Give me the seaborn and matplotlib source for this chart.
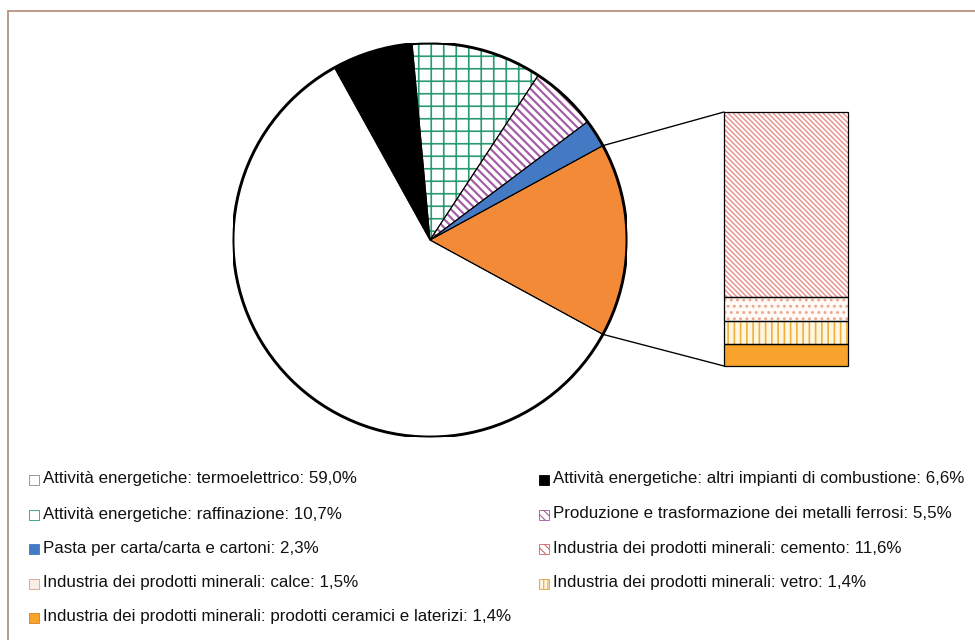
import matplotlib
matplotlib.use("Agg")
import math
import matplotlib.pyplot as plt
import seaborn as sns
from matplotlib.patches import Rectangle, Circle, ConnectionPatch
from matplotlib.lines import Line2D

# ---------------- data ----------------
pie_labels = ["Industria dei prodotti minerali",
              "Pasta per carta/carta e cartoni",
              "Produzione e trasformazione dei metalli ferrosi",
              "Attività energetiche: raffinazione",
              "Attività energetiche: altri impianti di combustione",
              "Attività energetiche: termoelettrico"]
bar_labels = ["prodotti ceramici e laterizi", "vetro", "calce", "cemento"]
bar_values = [1.4, 1.4, 1.5, 11.6]
pie_other_values = [2.3, 5.5, 10.7, 6.6, 59.0]
pie_values = [sum(bar_values)] + pie_other_values

legend_left = ["Attività energetiche: termoelettrico: 59,0%",
               "Attività energetiche: raffinazione: 10,7%",
               "Pasta per carta/carta e cartoni: 2,3%",
               "Industria dei prodotti minerali: calce: 1,5%",
               "Industria dei prodotti minerali: prodotti ceramici e laterizi: 1,4%"]
legend_right = ["Attività energetiche: altri impianti di combustione: 6,6%",
                "Produzione e trasformazione dei metalli ferrosi: 5,5%",
                "Industria dei prodotti minerali: cemento: 11,6%",
                "Industria dei prodotti minerali: vetro: 1,4%"]

# ---------------- style ----------------
sns.set_theme(style="white")
plt.rcParams["font.family"] = ["Liberation Sans", "DejaVu Sans"]

DPI = 75
W, H = 975, 640
fig = plt.figure(figsize=(W / DPI, H / DPI), dpi=DPI)
fig.patch.set_facecolor("white")

def fx(px):
    return px / W

def fy(py):
    return 1 - py / H

# pie styles (face, hatch colour, hatch, hatch lw)
pie_face = ["#f28a38", "#4479c4", "white", "white", "black", "white"]
pie_hcol = ["#f28a38", "#4479c4", "#a45ea4", "#2a9a70", "black", "white"]
pie_hatch = [None, None, "\\\\\\", "+", None, None]
pie_hlw = [1, 1, 2.1, 1.6, 1, 1]

# ---------------- pie ----------------
cx, cy, R = 430, 240, 197
ax_pie = fig.add_axes([fx(cx - R), fy(cy + R), 2 * R / W, 2 * R / H])
start = -pie_values[0] / 100 * 360 / 2
wedges, _ = ax_pie.pie(pie_values, colors=pie_face, startangle=start,
                       counterclock=True, radius=1,
                       wedgeprops=dict(linewidth=0))
for w, hc, h, hl in zip(wedges, pie_hcol, pie_hatch, pie_hlw):
    w.set_edgecolor(hc)
    if h:
        w.set_hatch(h)
        if hasattr(w, "set_hatch_linewidth"):
            w.set_hatch_linewidth(hl)
outl, _ = ax_pie.pie(pie_values, colors=["none"] * len(pie_values),
                     startangle=start, counterclock=True, radius=1,
                     wedgeprops=dict(linewidth=1.0, edgecolor="black", fill=False))
ax_pie.add_patch(Circle((0, 0), 1, fill=False, edgecolor="black", linewidth=2.8))
ax_pie.set_xlim(-1, 1)
ax_pie.set_ylim(-1, 1)
ax_pie.set_aspect("auto")
ax_pie.axis("off")

# ---------------- stacked bar ----------------
bx0, bx1, by0, by1 = 724, 848, 112, 366
ax_bar = fig.add_axes([fx(bx0), fy(by1), (bx1 - bx0) / W, (by1 - by0) / H])
bar_face = ["#f7a32c", "#fff6e0", "#fffaf5", "white"]
bar_hcol = ["#f7a32c", "#f0b040", "#e8a890", "#e88a86"]
bar_hatch = [None, "||", "..", "\\\\\\\\\\"]
bar_hlw = [1, 1.6, 1.6, 1.3]
bottom = 0
for v, fc, hc, h, hl in zip(bar_values, bar_face, bar_hcol, bar_hatch, bar_hlw):
    n_before = len(ax_bar.patches)
    sns.barplot(x=[0], y=[v], bottom=bottom, color=fc, saturation=1,
                width=1, edgecolor=hc, linewidth=0, ax=ax_bar, hatch=h)
    for p in ax_bar.patches[n_before:]:
        p.set_facecolor(fc)
        if h and hasattr(p, "set_hatch_linewidth"):
            p.set_hatch_linewidth(hl)
    bottom += v
for p in list(ax_bar.patches):
    ax_bar.add_patch(Rectangle(p.get_xy(), p.get_width(), p.get_height(),
                               fill=False, edgecolor="black", linewidth=1.2,
                               clip_on=False))
ax_bar.set_xlim(-0.5, 0.5)
ax_bar.set_ylim(0, sum(bar_values))
ax_bar.axis("off")

# connectors
a = math.radians(start)
for yy, ang in [(sum(bar_values), -a), (0, a)]:
    con = ConnectionPatch(xyA=(math.cos(ang), math.sin(ang)), coordsA=ax_pie.transData,
                          xyB=(-0.5, yy), coordsB=ax_bar.transData,
                          color="black", linewidth=1.3)
    fig.add_artist(con)

# ---------------- legend ----------------
row_y = [479, 514, 548, 583, 617]
left_mk = [("white", "#888888", None), ("white", "#2a9a70", None),
           ("#4479c4", "#4479c4", None), ("#fbeee6", "#d0a090", None),
           ("#f7a32c", "#d08020", None)]
right_mk = [("black", "black", None), ("white", "#a0559a", "\\\\\\"),
            ("white", "#d06060", "\\\\\\"), ("#fff6e0", "#e0a040", "|||")]
fs = 16.2

def legend_col(x_mk, x_txt, labels, mks):
    for yv, lab, (fc, ec, h) in zip(row_y, labels, mks):
        r = Rectangle((fx(x_mk), fy(yv + 6)), 10 / W, 10 / H,
                      transform=fig.transFigure, facecolor=fc, edgecolor=ec,
                      linewidth=0.8, hatch=h)
        fig.add_artist(r)
        fig.text(fx(x_txt), fy(yv), lab, fontsize=fs, va="center", ha="left",
                 color="#111111")

legend_col(29, 43, legend_left, left_mk)
legend_col(539, 553, legend_right, right_mk)

# frame (left and top edges)
brown = "#b08a78"
fig.add_artist(Line2D([fx(8), fx(8)], [fy(11), 0], transform=fig.transFigure,
                      color=brown, linewidth=1.6))
fig.add_artist(Line2D([fx(8), 1], [fy(11), fy(11)], transform=fig.transFigure,
                      color=brown, linewidth=1.6))

fig.savefig("out.png", dpi=DPI, facecolor="white")
